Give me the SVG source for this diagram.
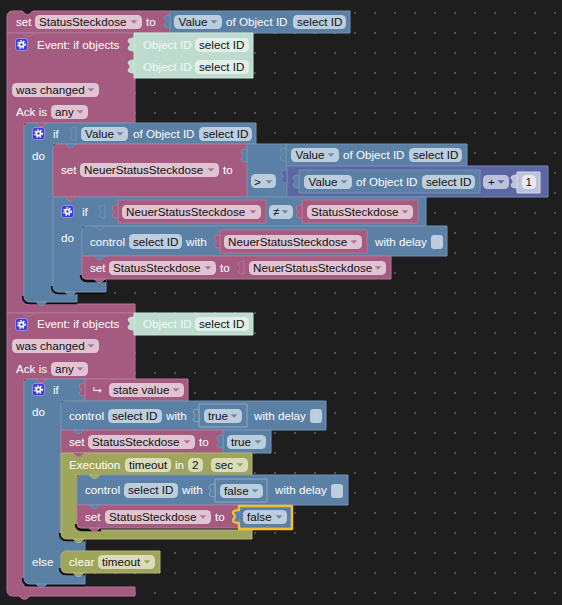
<svg xmlns="http://www.w3.org/2000/svg" width="562" height="605" viewBox="0 0 562 605">
<style>
text{font-family:"Liberation Sans",Arial,sans-serif;font-size:11.67px}
.t{fill:#fff}.d{fill:#111}.gt{fill:#f2f8f5}
.p{fill:#a55b80;stroke:#b5779a;stroke-width:1}
.b{fill:#5b80a5;stroke:#7493b3;stroke-width:1}
.o{fill:#9fa55b;stroke:#afb478;stroke-width:1}
.m{fill:#5b67a5;stroke:#7c85b7;stroke-width:1}
.g{fill:#bddccf;stroke:#cfe6dc;stroke-width:1}
.sb{fill:#5b80a5;stroke:#8fa9c3;stroke-width:1}
.sm{fill:#bdc2db;stroke:#d4d7e8;stroke-width:1}
.fp{fill:#e0c4d2}.fb{fill:#bccddd}.fo{fill:#d9dbb9}.fg{fill:#e3f0ea}.fm{fill:#bdc2db}.fw{fill:#e8eaf4}
.ap{fill:#b5739a}.ab{fill:#6a8cae}.ao{fill:#9fa55b}.am{fill:#5b67a5}
.sh{fill:none;stroke:#0c0c0c;stroke-width:2.4}
.ic{fill:#3a3ad8;stroke:#8f8fee;stroke-width:1}
.gear{fill:none;stroke:#fff;stroke-width:1.8}
.teeth{fill:none;stroke:#fff;stroke-width:1.4;stroke-dasharray:1.6 1.6}
.sel{fill:none;stroke:#f5bf2c;stroke-width:2.4;stroke-linejoin:round}
</style>
<defs>
<pattern id="grid" width="20" height="20" patternUnits="userSpaceOnUse"><circle cx="15" cy="13" r="1" fill="#5e5e5e"/></pattern>
<polygon id="arr" points="-3.500,-1.700 3.500,-1.700 0,1.800"/>
<path id="pz" d="M0 0q-4 0-5.500 1.500q-1 1.500 .5 3q1 1 1 2t-1 2q-1.500 1.500-.5 3q1.500 1.500 5.500 1.500z"/>
<path id="tab" d="M0 0l2.500 2.200q1 1.300 3 1.300t3-1.300l2.500-2.200z"/>
<g id="icon"><rect class="ic" x="0.500" y="0.500" width="12" height="12" rx="2.500"/><circle class="gear" cx="6.500" cy="6.500" r="2.200"/><circle class="teeth" cx="6.500" cy="6.500" r="3.800"/></g>
</defs>
<rect width="562" height="605" fill="#1e1e1e"/>
<rect width="562" height="605" fill="url(#grid)"/>

<g id="set-status">
<path class="p" d="M7 33V17q0-6 6-6h9l2.500 2.200q1 1.300 3 1.300t3-1.300l2.500-2.200H170V33z"/>
<text class="t" x="16" y="26">set</text>
<rect class="fp" x="35" y="15" width="107" height="14" rx="4.500"/><text class="d" x="39" y="26">StatusSteckdose</text><use href="#arr" class="ap" x="134" y="22"/>
<text class="t" x="146" y="26">to</text>
</g>
<g id="value-top">
<path class="b" d="M170 11H350V33H170z"/><use href="#pz" class="b" x="170" y="15"/>
<rect class="fb" x="174" y="15" width="48" height="14" rx="4.500"/><text class="d" x="178.500" y="26">Value</text><use href="#arr" class="ab" x="214" y="22"/>
<text class="t" x="226" y="26">of Object ID</text>
<rect class="fb" x="293" y="15" width="53" height="14" rx="4.500"/><text class="d" x="297" y="26">select ID</text>
</g>

<g id="event-1">
<path class="p" d="M7 33H135V123H24V304H135V313H7z"/>
<use href="#tab" class="p" x="23" y="33"/>
<use href="#icon" x="15" y="38"/>
<text class="t" x="37" y="49">Event: if objects</text>
<rect class="fp" x="12" y="83" width="87" height="14" rx="4.500"/><text class="d" x="16" y="94">was changed</text><use href="#arr" class="ap" x="91" y="90"/>
<text class="t" x="16" y="116">Ack is</text>
<rect class="fp" x="51" y="105" width="37" height="14" rx="4.500"/><text class="d" x="55" y="116">any</text><use href="#arr" class="ap" x="80" y="112"/>
</g>
<g id="objects-1">
<path class="g" d="M134 33H253V78H134z"/><use href="#pz" class="g" x="134" y="38"/><use href="#pz" class="g" x="134" y="60"/>
<text class="gt" x="143" y="49">Object ID</text><rect class="fg" x="195" y="38" width="54" height="14" rx="4.500"/><text class="d" x="199" y="49">select ID</text>
<text class="gt" x="143" y="71">Object ID</text><rect class="fg" x="195" y="60" width="54" height="14" rx="4.500"/><text class="d" x="199" y="71">select ID</text>
</g>

<g id="if-outer">
<path class="sh" d="M23 296q0 7 7 7H77"/>
<path class="b" d="M24 129q0-6 6-6H256V144H53V292H77V302H30q-6 0-6-6z"/>
<use href="#icon" x="32" y="127"/>
<text class="t" x="53" y="138">if</text>
<text class="t" x="32" y="160">do</text>
<use href="#pz" class="b" x="76" y="127"/>
<rect class="fb" x="81" y="127" width="47" height="14" rx="4.500"/><text class="d" x="85" y="138">Value</text><use href="#arr" class="ab" x="120" y="134"/>
<text class="t" x="133" y="138">of Object ID</text>
<rect class="fb" x="199" y="127" width="53" height="14" rx="4.500"/><text class="d" x="203" y="138">select ID</text>
</g>

<g id="set-neuer">
<path class="p" d="M53 150q0-6 6-6H248V197H53z"/>
<text class="t" x="61" y="174">set</text>
<rect class="fp" x="80" y="163" width="139" height="14" rx="4.500"/><text class="d" x="84" y="174">NeuerStatusSteckdose</text><use href="#arr" class="ap" x="211" y="170"/>
<text class="t" x="223" y="174">to</text>
</g>
<g id="compare">
<path class="b" d="M247 144H287V197H247z"/><use href="#pz" class="b" x="247" y="149"/>
<rect class="fb" x="251" y="174" width="25" height="14" rx="4.500"/><text class="d" x="254" y="186">&gt;</text><use href="#arr" class="ab" x="269" y="182"/>
</g>
<g id="value-a">
<path class="b" d="M286 144H467V166H286z"/><use href="#pz" class="b" x="286" y="148"/>
<rect class="fb" x="291" y="148" width="48" height="14" rx="4.500"/><text class="d" x="295.500" y="159">Value</text><use href="#arr" class="ab" x="331" y="155"/>
<text class="t" x="343" y="159">of Object ID</text>
<rect class="fb" x="409" y="148" width="53" height="14" rx="4.500"/><text class="d" x="413" y="159">select ID</text>
</g>
<g id="math">
<path class="m" d="M287 166H548V197H287z"/><use href="#pz" class="m" x="287" y="170"/>
</g>
<g id="value-b">
<path class="b" d="M299 170H480V193H299z"/><use href="#pz" class="b" x="299" y="175"/>
<rect class="fb" x="304" y="175" width="48" height="14" rx="4.500"/><text class="d" x="308.500" y="186">Value</text><use href="#arr" class="ab" x="344" y="182"/>
<text class="t" x="356" y="186">of Object ID</text>
<rect class="fb" x="422" y="175" width="53" height="14" rx="4.500"/><text class="d" x="426" y="186">select ID</text>
</g>
<g id="plus">
<rect class="fm" x="483" y="175" width="26" height="14" rx="4.500"/><text class="d" x="488" y="186">+</text><use href="#arr" class="am" x="501" y="182"/>
<path class="sm" d="M517 172H540V193H517z"/><use href="#pz" class="sm" x="517" y="175"/>
<rect class="fw" x="522" y="175" width="14" height="14" rx="4.500"/><text class="d" x="525.500" y="186">1</text>
</g>

<g id="if-inner">
<path class="sh" d="M52 286q0 7 7 7H106"/>
<path class="b" d="M53 197H426V226H82V280H106V292H59q-6 0-6-6z"/>
<use href="#icon" x="61" y="205"/>
<text class="t" x="82" y="216">if</text>
<text class="t" x="61" y="242">do</text>
<use href="#pz" class="b" x="105" y="205"/>
<rect class="fb" x="269" y="205" width="24" height="14" rx="4.500"/><text class="d" x="273" y="216">≠</text><use href="#arr" class="ab" x="285" y="212"/>
</g>
<g id="neuer-a">
<path class="p" d="M118 200H266V223H118z"/><use href="#pz" class="p" x="118" y="205"/>
<rect class="fp" x="122" y="205" width="139" height="14" rx="4.500"/><text class="d" x="126" y="216">NeuerStatusSteckdose</text><use href="#arr" class="ap" x="253" y="212"/>
</g>
<g id="status-a">
<path class="p" d="M302 200H418V223H302z"/><use href="#pz" class="p" x="302" y="205"/>
<rect class="fp" x="307" y="205" width="106" height="14" rx="4.500"/><text class="d" x="311" y="216">StatusSteckdose</text><use href="#arr" class="ap" x="405" y="212"/>
</g>

<g id="control-a">
<path class="b" d="M82 232q0-6 6-6H447V256H82z"/>
<text class="t" x="90" y="246">control</text>
<rect class="fb" x="129" y="234" width="53" height="15" rx="4.500"/><text class="d" x="133" y="246">select ID</text>
<text class="t" x="186" y="246">with</text>
<text class="t" x="375" y="246">with delay</text>
<rect class="fb" x="431" y="235" width="12" height="14" rx="3"/>
</g>
<g id="neuer-b">
<path class="p" d="M220 230H367V253H220z"/><use href="#pz" class="p" x="220" y="235"/>
<rect class="fp" x="224" y="235" width="138" height="14" rx="4.500"/><text class="d" x="228" y="246">NeuerStatusSteckdose</text><use href="#arr" class="ap" x="354" y="242"/>
</g>
<g id="set-status-a">
<path class="sh" d="M81 275q0 6 6 6H106"/>
<path class="p" d="M82 256H391V279H86q-4 0-4-4z"/>
<text class="t" x="90" y="272">set</text>
<rect class="fp" x="109" y="261" width="107" height="14" rx="4.500"/><text class="d" x="113" y="272">StatusSteckdose</text><use href="#arr" class="ap" x="208" y="268"/>
<text class="t" x="220" y="272">to</text>
<use href="#pz" class="p" x="244" y="261"/>
<rect class="fp" x="249" y="261" width="137" height="14" rx="4.500"/><text class="d" x="253" y="272">NeuerStatusSteckdose</text><use href="#arr" class="ap" x="378" y="268"/>
</g>
<g id="tabs-1">
<use href="#tab" class="p" x="36" y="123"/>
<use href="#tab" class="b" x="65" y="144"/><use href="#tab" class="p" x="65" y="197"/><use href="#tab" class="b" x="94" y="226"/><use href="#tab" class="b" x="94" y="256"/>
<use href="#tab" class="p" x="94" y="279"/><use href="#tab" class="b" x="65" y="292"/><use href="#tab" class="b" x="36" y="302"/>
</g>

<g id="event-2">
<path class="p" d="M7 313H135V379H24V587H135V596H30l-2.500 2.200q-1 1-3 1t-3-1L19 596H13q-6 0-6-6z"/>
<use href="#tab" class="p" x="23" y="313"/>
<use href="#icon" x="15" y="318"/>
<text class="t" x="37" y="328">Event: if objects</text>
<rect class="fp" x="12" y="339" width="87" height="14" rx="4.500"/><text class="d" x="16" y="350">was changed</text><use href="#arr" class="ap" x="91" y="346"/>
<text class="t" x="16" y="373">Ack is</text>
<rect class="fp" x="51" y="362" width="37" height="14" rx="4.500"/><text class="d" x="55" y="373">any</text><use href="#arr" class="ap" x="80" y="369"/>
</g>
<g id="objects-2">
<path class="g" d="M134 313H253V335H134z"/><use href="#pz" class="g" x="134" y="317"/>
<text class="gt" x="143" y="328">Object ID</text><rect class="fg" x="195" y="317" width="54" height="14" rx="4.500"/><text class="d" x="199" y="328">select ID</text>
</g>

<g id="if-2">
<path class="sh" d="M23 578q0 7 7 7H85"/>
<path class="b" d="M24 385q0-6 6-6H85V401H61V539H85V574H85V584H30q-6 0-6-6z"/>
<use href="#icon" x="32" y="383"/>
<text class="t" x="53" y="394">if</text>
<text class="t" x="32" y="416">do</text>
<text class="t" x="32" y="566">else</text>
</g>
<g id="state-value">
<path class="p" d="M85 379H188V401H85z"/><use href="#pz" class="p" x="85" y="383"/>
<text class="t" x="93" y="393" style="font-family:'DejaVu Sans',sans-serif;font-size:11px">⮡</text>
<rect class="fp" x="109" y="383" width="75" height="14" rx="4.500"/><text class="d" x="113" y="394">state value</text><use href="#arr" class="ap" x="176" y="390"/>
</g>
<g id="control-b">
<path class="b" d="M61 407q0-6 6-6H326V430H61z"/>
<text class="t" x="69" y="420">control</text>
<rect class="fb" x="108" y="409" width="54" height="14" rx="4.500"/><text class="d" x="112" y="420">select ID</text>
<text class="t" x="166" y="420">with</text>
<path class="sb" d="M199 404H247V427H199z"/><use href="#pz" class="sb" x="199" y="409"/>
<rect class="fb" x="204" y="409" width="38" height="14" rx="4.500"/><text class="d" x="208" y="420">true</text><use href="#arr" class="ab" x="234" y="416"/>
<text class="t" x="254" y="420">with delay</text>
<rect class="fb" x="310" y="409" width="12" height="14" rx="3"/>
</g>
<g id="set-status-b">
<path class="p" d="M61 430H224V453H61z"/>
<text class="t" x="69" y="446">set</text>
<rect class="fp" x="88" y="435" width="107" height="14" rx="4.500"/><text class="d" x="92" y="446">StatusSteckdose</text><use href="#arr" class="ap" x="187" y="442"/>
<text class="t" x="199" y="446">to</text>
</g>
<g id="true-b">
<path class="b" d="M223 430H271V453H223z"/><use href="#pz" class="b" x="223" y="435"/>
<rect class="fb" x="227" y="435" width="39" height="14" rx="4.500"/><text class="d" x="231" y="446">true</text><use href="#arr" class="ab" x="258" y="442"/>
</g>
<g id="execution">
<path class="sh" d="M60 533q0 7 7 7H85"/>
<path class="o" d="M61 453H252V475H77V530H252V539H67q-6 0-6-6z"/>
<text class="t" x="69" y="469">Execution</text>
<rect class="fo" x="125" y="458" width="46" height="14" rx="4.500"/><text class="d" x="129" y="469">timeout</text>
<text class="t" x="175" y="469">in</text>
<rect class="fo" x="188" y="458" width="15" height="14" rx="4.500"/><text class="d" x="192" y="469">2</text>
<rect class="fo" x="211" y="458" width="37" height="14" rx="4.500"/><text class="d" x="215" y="469">sec</text><use href="#arr" class="ao" x="240" y="465"/>
</g>
<g id="control-c">
<path class="b" d="M77 481q0-6 6-6H348V505H77z"/>
<text class="t" x="85" y="494">control</text>
<rect class="fb" x="124" y="483" width="54" height="15" rx="4.500"/><text class="d" x="128" y="494">select ID</text>
<text class="t" x="182" y="494">with</text>
<path class="sb" d="M215 479H267V502H215z"/><use href="#pz" class="sb" x="215" y="484"/>
<rect class="fb" x="220" y="484" width="43" height="14" rx="4.500"/><text class="d" x="224" y="495">false</text><use href="#arr" class="ab" x="255" y="491"/>
<text class="t" x="275" y="494">with delay</text>
<rect class="fb" x="331" y="484" width="12" height="14" rx="3"/>
</g>
<g id="set-status-c">
<path class="sh" d="M76 524q0 6 6 6H101"/>
<path class="p" d="M77 505H240V528H81q-4 0-4-4z"/>
<text class="t" x="85" y="521">set</text>
<rect class="fp" x="105" y="510" width="106" height="14" rx="4.500"/><text class="d" x="109" y="521">StatusSteckdose</text><use href="#arr" class="ap" x="203" y="517"/>
<text class="t" x="215" y="521">to</text>
</g>
<g id="false-selected">
<path class="b" d="M239 505H291V528H239z"/>
<path class="b" d="M239 510q-4 0-5.500 1.500q-1 1.500.5 3q1 1 1 2t-1 2q-1.500 1.500-.5 3q1.500 1.500 5.500 1.500z" style="stroke:none"/>
<path class="sel" d="M239 506H292V529H239V523q-4 0-5.500-1.500q-1-1.500.5-3q1-1 1-2t-1-2q-1.500-1.500-.5-3q1.500-1.500 5.500-1.500z"/>
<rect class="fb" x="243" y="510" width="44" height="14" rx="4.500"/><text class="d" x="247" y="521">false</text><use href="#arr" class="ab" x="279" y="517"/>
</g>
<g id="clear">
<path class="sh" d="M60 568q0 6 6 6H85"/>
<path class="o" d="M61 557q0-6 6-6H160V573H67q-6 0-6-6z"/>
<text class="t" x="69" y="566">clear</text>
<rect class="fo" x="98" y="555" width="57" height="14" rx="4.500"/><text class="d" x="102" y="566">timeout</text><use href="#arr" class="ao" x="147" y="562"/>
</g>
<g id="tabs-2">
<use href="#tab" class="p" x="36" y="379"/><use href="#tab" class="b" x="73" y="430"/><use href="#tab" class="p" x="73" y="453"/><use href="#tab" class="o" x="89" y="475"/><use href="#tab" class="b" x="89" y="505"/><use href="#tab" class="p" x="89" y="528"/><use href="#tab" class="o" x="73" y="539"/><use href="#tab" class="o" x="73" y="573"/><use href="#tab" class="b" x="36" y="584"/>
</g>
</svg>
